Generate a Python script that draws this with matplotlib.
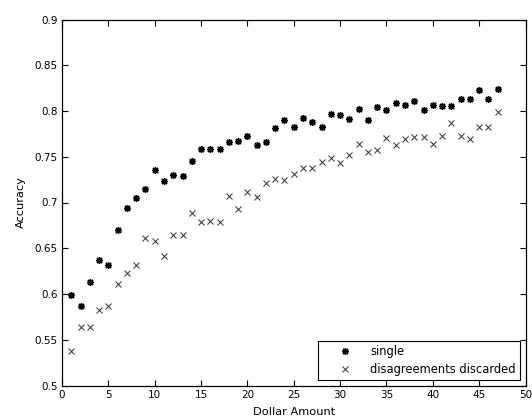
import matplotlib
matplotlib.use("Agg")
import matplotlib.pyplot as plt

dollar = list(range(1, 48))
single = [0.599, 0.587, 0.613, 0.637, 0.632, 0.670, 0.694, 0.705, 0.715, 0.735,
          0.724, 0.730, 0.729, 0.745, 0.759, 0.759, 0.759, 0.766, 0.767, 0.773,
          0.763, 0.766, 0.781, 0.790, 0.782, 0.792, 0.788, 0.782, 0.797, 0.796,
          0.791, 0.802, 0.790, 0.804, 0.801, 0.809, 0.807, 0.811, 0.801, 0.807,
          0.805, 0.805, 0.813, 0.813, 0.823, 0.813, 0.824]
discarded = [0.538, 0.564, 0.564, 0.583, 0.587, 0.611, 0.623, 0.632, 0.661, 0.658,
             0.641, 0.665, 0.665, 0.688, 0.679, 0.680, 0.679, 0.707, 0.693, 0.711,
             0.706, 0.721, 0.726, 0.725, 0.731, 0.738, 0.738, 0.744, 0.749, 0.743,
             0.752, 0.764, 0.755, 0.757, 0.771, 0.763, 0.769, 0.772, 0.772, 0.764,
             0.773, 0.787, 0.773, 0.769, 0.782, 0.783, 0.799]
xticks = [0, 5, 10, 15, 20, 25, 30, 35, 40, 45, 50]
yticks = [0.5, 0.55, 0.6, 0.65, 0.7, 0.75, 0.8, 0.85, 0.9]
ytick_labels = ["0.5", "0.55", "0.6", "0.65", "0.7", "0.75", "0.8", "0.85", "0.9"]

plt.rcParams['font.family'] = ['DejaVu Sans']
fig = plt.figure(figsize=(5.32, 4.2), dpi=100)
ax = fig.add_axes([62/532, 1 - 385.5/420, (525.5 - 62)/532, (385.5 - 19.5)/420])

ax.plot(dollar, single, linestyle='none', marker=(8, 2, 0), markersize=5,
        markeredgewidth=1.0, color='black', label='single')
ax.plot(dollar, discarded, linestyle='none', marker='x', markersize=3.8,
        markeredgewidth=0.75, color='#3a3a3a', label='disagreements discarded')

ax.set_xlim(0, 50)
ax.set_ylim(0.5, 0.9)
ax.set_xticks(xticks)
ax.set_xticklabels([str(t) for t in xticks])
ax.set_yticks(yticks)
ax.set_yticklabels(ytick_labels)
ax.tick_params(direction='in', length=4, width=0.8, top=True, right=True,
               labelsize=7.5, colors='black', pad=3)
for s in ax.spines.values():
    s.set_linewidth(0.9)
    s.set_color('black')

ax.set_xlabel('Dollar Amount', fontsize=8.2, labelpad=5)
ax.set_ylabel('Accuracy', fontsize=8.2, labelpad=6)

leg = ax.legend(loc='lower right', fontsize=8.3, frameon=True, fancybox=False,
                edgecolor='black', framealpha=1, borderaxespad=0.5,
                handletextpad=0.2, borderpad=0.35, labelspacing=0.4,
                handlelength=4.0)
leg.get_frame().set_linewidth(0.8)

fig.savefig('out.png', dpi=100)
